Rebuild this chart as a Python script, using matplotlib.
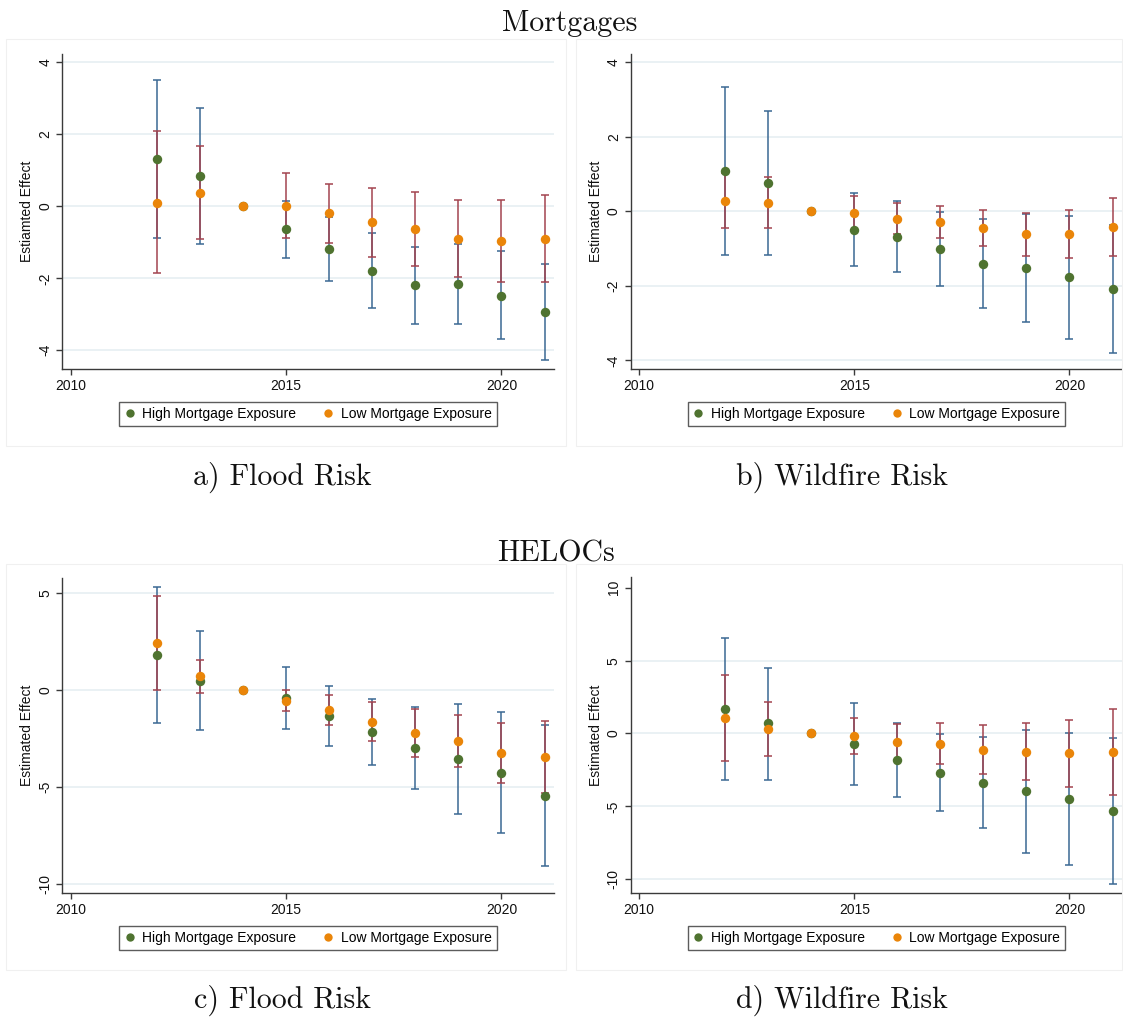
import matplotlib
matplotlib.use("Agg")
import matplotlib.pyplot as plt
from matplotlib.lines import Line2D
from matplotlib.patches import Rectangle

plt.rcParams['font.family'] = ['Liberation Sans', 'DejaVu Sans']
plt.rcParams['axes.unicode_minus'] = False

years = [2012, 2013, 2014, 2015, 2016, 2017, 2018, 2019, 2020, 2021]

# a) Mortgages - Flood Risk
a_high = [1.31, 0.83, 0.0, -0.64, -1.19, -1.79, -2.20, -2.17, -2.49, -2.95]
a_high_lo = [-0.89, -1.04, 0.0, -1.44, -2.08, -2.82, -3.27, -3.26, -3.70, -4.27]
a_high_hi = [3.52, 2.72, 0.0, 0.16, -0.30, -0.73, -1.12, -1.06, -1.25, -1.61]
a_low = [0.10, 0.37, 0.0, 0.02, -0.19, -0.45, -0.62, -0.90, -0.96, -0.92]
a_low_lo = [-1.86, -0.92, 0.0, -0.88, -1.01, -1.42, -1.65, -1.96, -2.10, -2.11]
a_low_hi = [2.08, 1.67, 0.0, 0.93, 0.63, 0.51, 0.41, 0.17, 0.17, 0.30]

# b) Mortgages - Wildfire Risk
b_high = [1.07, 0.75, 0.0, -0.49, -0.68, -1.02, -1.40, -1.53, -1.77, -2.09]
b_high_lo = [-1.17, -1.16, 0.0, -1.47, -1.64, -2.01, -2.60, -2.98, -3.42, -3.80]
b_high_hi = [3.33, 2.68, 0.0, 0.48, 0.29, -0.03, -0.21, -0.06, -0.13, -0.38]
b_low = [0.28, 0.23, 0.0, -0.04, -0.20, -0.30, -0.45, -0.62, -0.62, -0.42]
b_low_lo = [-0.46, -0.44, 0.0, -0.50, -0.61, -0.72, -0.92, -1.21, -1.26, -1.21]
b_low_hi = [1.02, 0.91, 0.0, 0.42, 0.21, 0.15, 0.04, -0.04, 0.03, 0.36]

# c) HELOCs - Flood Risk
c_high = [1.81, 0.48, 0.0, -0.43, -1.34, -2.17, -2.99, -3.55, -4.25, -5.47]
c_high_lo = [-1.70, -2.07, 0.0, -2.03, -2.87, -3.87, -5.09, -6.37, -7.38, -9.07]
c_high_hi = [5.34, 3.06, 0.0, 1.19, 0.19, -0.45, -0.86, -0.74, -1.15, -1.82]
c_low = [2.43, 0.71, 0.0, -0.55, -1.03, -1.64, -2.22, -2.60, -3.25, -3.44]
c_low_lo = [0.0, -0.15, 0.0, -1.07, -1.82, -2.63, -3.43, -3.94, -4.80, -5.28]
c_low_hi = [4.84, 1.55, 0.0, 0.03, -0.26, -0.62, -0.98, -1.26, -1.70, -1.58]

# d) HELOCs - Wildfire Risk
d_high = [1.69, 0.69, 0.0, -0.75, -1.83, -2.70, -3.38, -3.98, -4.53, -5.35]
d_high_lo = [-3.18, -3.18, 0.0, -3.56, -4.34, -5.30, -6.49, -8.21, -9.05, -10.35]
d_high_hi = [6.56, 4.50, 0.0, 2.06, 0.69, -0.05, -0.27, 0.23, 0.05, -0.30]
d_low = [1.03, 0.30, 0.0, -0.18, -0.59, -0.73, -1.12, -1.26, -1.37, -1.26]
d_low_lo = [-1.90, -1.55, 0.0, -1.44, -1.84, -2.10, -2.81, -3.21, -3.68, -4.21]
d_low_hi = [4.00, 2.15, 0.0, 1.07, 0.66, 0.69, 0.59, 0.69, 0.91, 1.71]

BLUE = '#3b6893'
RED = '#a3444f'
GREEN = '#4f7330'
ORANGE = '#ea8509'
GRID = '#e6eff2'

W, H = 1123, 1017
fig = plt.figure(figsize=(W / 100, H / 100), dpi=100)


def px_axes(left, right, top, bottom):
    return fig.add_axes([left / W, 1 - bottom / H, (right - left) / W, (bottom - top) / H])


def panel(ax, est_h, lo_h, hi_h, est_l, lo_l, hi_l, ylim, yticks, grid, ylabel):
    for y in grid:
        ax.axhline(y, color=GRID, lw=1.2, zorder=0)
    for est, lo, hi, col in [(est_h, lo_h, hi_h, BLUE), (est_l, lo_l, hi_l, RED)]:
        yrs = [yr for yr, a, b in zip(years, lo, hi) if a != b]
        mid = [(a + b) / 2 for a, b in zip(lo, hi) if a != b]
        err = [(b - a) / 2 for a, b in zip(lo, hi) if a != b]
        ax.errorbar(yrs, mid, yerr=err, fmt='none', ecolor=col, elinewidth=1.1,
                    capsize=3.2, capthick=1.1, zorder=2)
    ax.plot(years, est_h, 'o', color=GREEN, ms=6.8, mec='none', zorder=3)
    ax.plot(years, est_l, 'o', color=ORANGE, ms=6.8, mec='none', zorder=4)
    ax.set_xlim(2009.8, 2021.22)
    ax.set_ylim(*ylim)
    ax.set_xticks([2010, 2015, 2020])
    ax.set_yticks(yticks)
    ax.set_yticklabels([str(t) for t in yticks], rotation=90, va='center')
    for s in ['top', 'right']:
        ax.spines[s].set_visible(False)
    for s in ['left', 'bottom']:
        ax.spines[s].set_color('#3a3a3a')
        ax.spines[s].set_linewidth(1.0)
    ax.tick_params(length=4, width=1, color='#3a3a3a', labelsize=10, pad=3,
                   labelcolor='#111111')
    ax.set_ylabel(ylabel, fontsize=10, labelpad=3, color='#111111')
    handles = [Line2D([], [], ls='none', marker='o', color=GREEN, ms=6, mec='none'),
               Line2D([], [], ls='none', marker='o', color=ORANGE, ms=6, mec='none')]
    leg = ax.legend(handles, ['High Mortgage Exposure', 'Low Mortgage Exposure'],
                    loc='center', bbox_to_anchor=(0.5, -0.143), ncol=2, fontsize=10,
                    frameon=True, fancybox=False, handlelength=0.8, handletextpad=0.5,
                    columnspacing=1.9, borderpad=0.35, borderaxespad=0)
    leg.get_frame().set_edgecolor('#333333')
    leg.get_frame().set_linewidth(1.0)


# light frames around each sub-graph
for (x0, y0, x1, y1) in [(6, 39, 566, 446), (576, 39, 1122, 446),
                         (6, 564, 566, 970), (576, 564, 1122, 970)]:
    fig.patches.append(Rectangle((x0 / W, 1 - y1 / H), (x1 - x0) / W, (y1 - y0) / H,
                                 transform=fig.transFigure, fill=False,
                                 edgecolor='#f0f0f0', lw=0.8))

ax_a = px_axes(62, 554, 54, 369)
panel(ax_a, a_high, a_high_lo, a_high_hi, a_low, a_low_lo, a_low_hi,
      (-4.52, 4.23), [-4, -2, 0, 2, 4], [-4, -2, 0, 2, 4], 'Estiamted Effect')

ax_b = px_axes(630.5, 1122, 54, 369)
panel(ax_b, b_high, b_high_lo, b_high_hi, b_low, b_low_lo, b_low_hi,
      (-4.23, 4.22), [-4, -2, 0, 2, 4], [-4, -2, 0, 2, 4], 'Estimated Effect')

ax_c = px_axes(62, 554, 578, 893)
panel(ax_c, c_high, c_high_lo, c_high_hi, c_low, c_low_lo, c_low_hi,
      (-10.46, 5.78), [-10, -5, 0, 5], [-10, -5, 0, 5], 'Estimated Effect')

ax_d = px_axes(630.5, 1122, 577, 893)
panel(ax_d, d_high, d_high_lo, d_high_hi, d_low, d_low_lo, d_low_hi,
      (-10.95, 10.74), [-10, -5, 0, 5, 10], [-10, -5, 0, 5], 'Estimated Effect')

serif = dict(family='cmr10', fontsize=21.5, ha='center', va='baseline', color='#111111')
fig.text(570 / W, 1 - 31 / H, 'Mortgages', **serif)
fig.text(282 / W, 1 - 485 / H, 'a) Flood Risk', **serif)
fig.text(842 / W, 1 - 485 / H, 'b) Wildfire Risk', **serif)
fig.text(556 / W, 1 - 562 / H, 'HELOCs', **serif)
fig.text(282 / W, 1 - 1008 / H, 'c) Flood Risk', **serif)
fig.text(842 / W, 1 - 1008 / H, 'd) Wildfire Risk', **serif)

fig.savefig('out.png', dpi=100)
